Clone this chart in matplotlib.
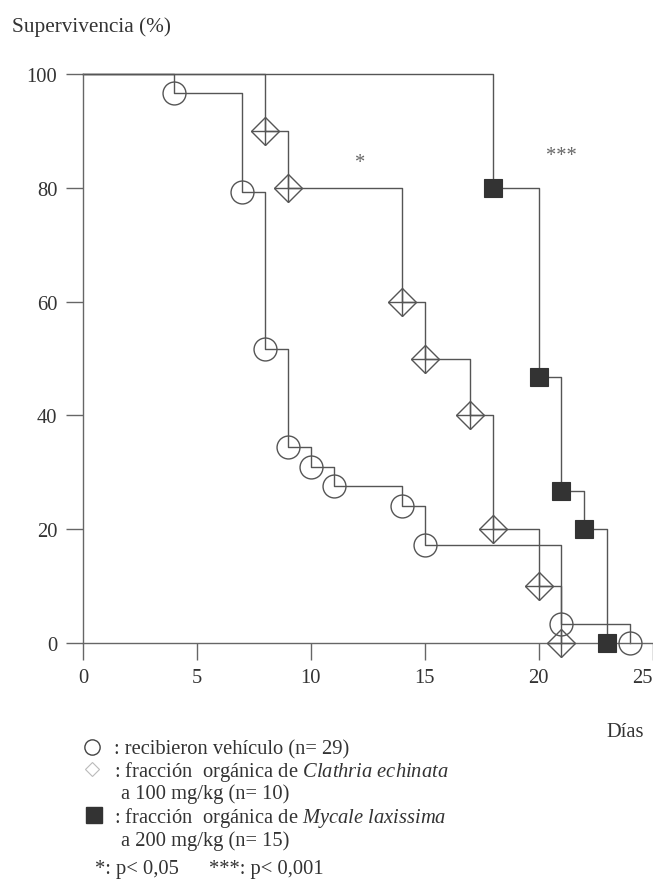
import matplotlib
matplotlib.use("Agg")
import matplotlib.pyplot as plt
from matplotlib.lines import Line2D

plt.rcParams['font.family'] = 'Liberation Serif'
plt.rcParams['mathtext.fontset'] = 'custom'
plt.rcParams['mathtext.rm'] = 'Liberation Serif'
plt.rcParams['mathtext.it'] = 'Liberation Serif:italic'

# Kaplan-Meier data: day of each event and % survival after it
vehiculo_dias = [0, 4, 7, 8, 9, 10, 11, 14, 15, 21, 24]
vehiculo_surv = [100, 96.6, 79.3, 51.7, 34.5, 31.0, 27.6, 24.1, 17.2, 3.4, 0]
clathria_dias = [0, 8, 9, 14, 15, 17, 18, 20, 21]
clathria_surv = [100, 90, 80, 60, 50, 40, 20, 10, 0]
mycale_dias = [0, 18, 20, 21, 22, 23]
mycale_surv = [100, 80, 46.7, 26.7, 20, 0]

x_ticks = [0, 5, 10, 15, 20, 25]
y_ticks = [0, 20, 40, 60, 80, 100]

sig_x = [12.15, 21.0]
sig_y = [83.6, 84.8]
sig_txt = ['*', '***']

W, H = 653, 887
line_c = '#555555'
text_c = '#333333'
fs = 14.8


def fx(px):
    return px / W


def fy(py):
    return 1 - py / H


fig = plt.figure(figsize=(W / 100, H / 100), dpi=100)
ax = fig.add_axes([fx(83), fy(644), fx(652.5) - fx(83), fy(75) - fy(644)])

# step curves
for dias, surv in [(vehiculo_dias, vehiculo_surv), (clathria_dias, clathria_surv),
                   (mycale_dias, mycale_surv)]:
    ax.step(dias, surv, where='post', color=line_c, lw=1.0, clip_on=False, zorder=2)

# markers
ax.plot(vehiculo_dias[1:], vehiculo_surv[1:], 'o', ms=16.5, mfc='none', mec=line_c,
        mew=1.0, clip_on=False, zorder=3)
ax.plot(clathria_dias[1:], clathria_surv[1:], 'D', ms=14.2, mfc='none', mec=line_c,
        mew=1.0, clip_on=False, zorder=3)
ax.plot(clathria_dias[1:], clathria_surv[1:], '+', ms=20.1, mec=line_c,
        mew=1.0, clip_on=False, zorder=3)
ax.plot(mycale_dias[1:], mycale_surv[1:], 's', ms=13.3, mfc='#333333', mec='#333333',
        mew=0.8, clip_on=False, zorder=3)

for x, y, t in zip(sig_x, sig_y, sig_txt):
    ax.text(x, y, t, ha='center', va='baseline', fontsize=fs, color='#666666')

ax.set_xlim(0, 25)
ax.set_ylim(0, 100)
ax.set_xticks(x_ticks)
ax.set_yticks(y_ticks)
for s in ['top', 'right']:
    ax.spines[s].set_visible(False)
for s in ['left', 'bottom']:
    ax.spines[s].set_color('#666666')
    ax.spines[s].set_linewidth(1.0)
ax.tick_params(direction='out', length=12, width=1.0, color='#666666',
               labelsize=fs, labelcolor=text_c)
ax.tick_params(axis='y', pad=6.5)
ax.tick_params(axis='x', pad=6)
ax.get_xticklabels()[-1].set_horizontalalignment('right')  # keep "25" inside the image
ax.patch.set_alpha(0)

# titles
fig.text(fx(12), fy(32), 'Supervivencia (%)', fontsize=15.3, color=text_c,
         ha='left', va='baseline')
fig.text(fx(625), fy(737), 'Días', fontsize=fs, color=text_c,
         ha='center', va='baseline')

# legend (drawn by hand like the original)
fig.add_artist(Line2D([fx(92)], [fy(748)], marker='o', ms=11, mfc='none', mec='#444444',
                      mew=1.0, transform=fig.transFigure))
fig.add_artist(Line2D([fx(92)], [fy(770)], marker='D', ms=7, mfc='none', mec='#bbbbbb',
                      mew=0.8, transform=fig.transFigure))
fig.add_artist(Line2D([fx(94)], [fy(816)], marker='s', ms=11.5, mfc='#333333', mec='#333333',
                      transform=fig.transFigure))

leg_x = [114, 114, 121, 114, 121]
leg_y = [754, 777, 799, 823, 846]
leg_txt = [': recibieron vehículo (n= 29)',
           r': fracción  orgánica de $\mathit{Clathria\ echinata}$',
           'a 100 mg/kg (n= 10)',
           r': fracción  orgánica de $\mathit{Mycale\ laxissima}$',
           'a 200 mg/kg (n= 15)']
for x, y, t in zip(leg_x, leg_y, leg_txt):
    fig.text(fx(x), fy(y), t, fontsize=fs, color=text_c, ha='left', va='baseline')

fig.text(fx(95), fy(874), '*: p< 0,05', fontsize=fs, color=text_c, ha='left', va='baseline')
fig.text(fx(209), fy(874), '***: p< 0,001', fontsize=fs, color=text_c, ha='left', va='baseline')

fig.savefig('out.png', dpi=100)
